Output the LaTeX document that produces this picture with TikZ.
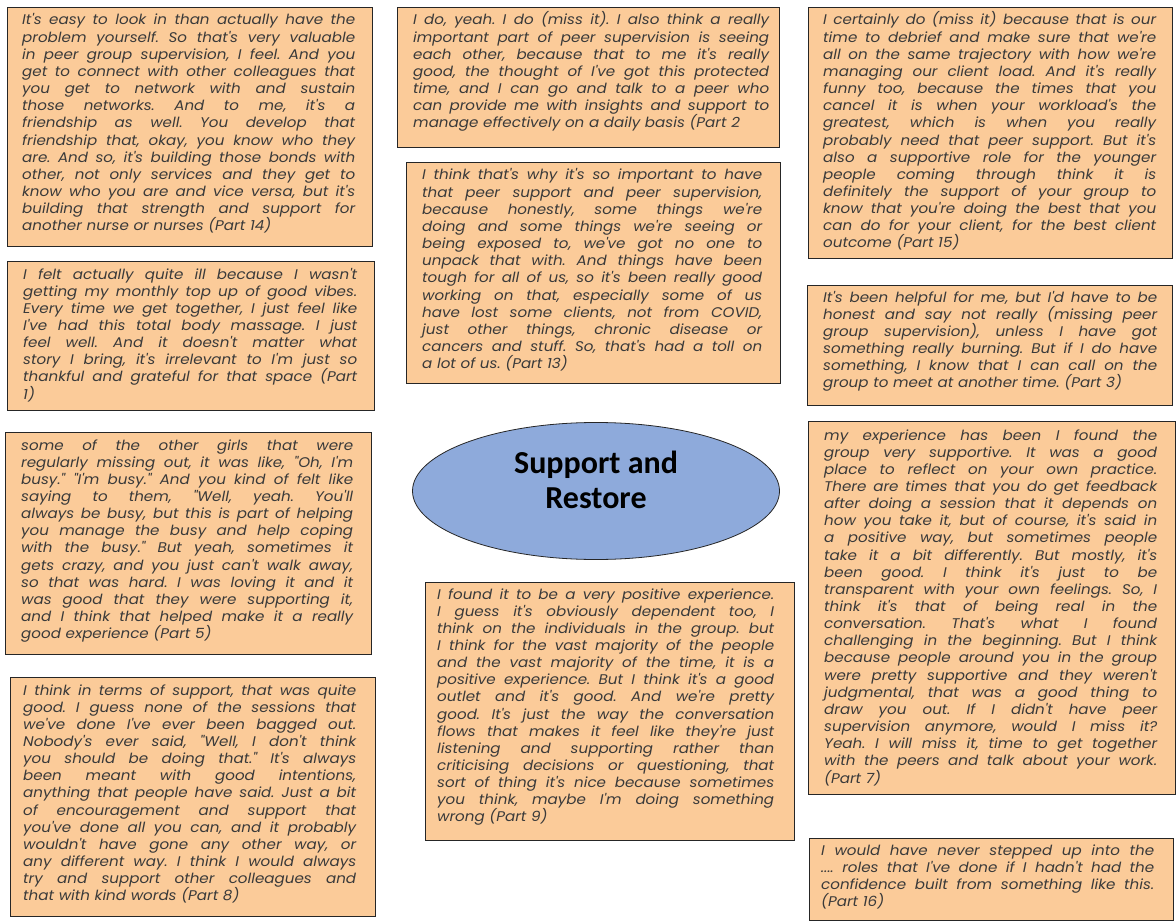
\documentclass[tikz,border=0pt]{standalone}
\usepackage{fontspec}
\usetikzlibrary{shapes.geometric,calc}
\newfontfamily\quotefont{Poppins}[FakeStretch=1.08]
\newfontfamily\hubfont{Carlito}
\definecolor{peach}{HTML}{FBCB99}
\definecolor{hubblue}{HTML}{8EAADB}
\definecolor{inkgray}{HTML}{3A3A3A}
\definecolor{boxline}{HTML}{262626}
\frenchspacing
% width of the text column of the quotation being set
\newdimen\qwidth
% a stretchable gap between two words
\newcommand\qgap{\hskip\fontdimen2\font plus 1fil minus 0.05em\relax}
% split a line at its spaces and join the words with stretchable gaps
\def\qwords#1 #2\qend{#1\if\relax\detokenize{#2}\relax\else\qgap\qwords#2\qend\fi}
% one justified line, and the closing (ragged) line of a quotation
\newcommand\ql[1]{\hbox to \qwidth{\qwords#1 \qend}\par}
\newcommand\qe[1]{\hbox{#1}\par}

\begin{document}
\begin{tikzpicture}[x=1pt,y=-1pt,
  quotebox/.style={draw=boxline, line width=1.2pt, fill=peach, anchor=north west, inner sep=0pt},
  quotetext/.style={anchor=base west, inner sep=0pt, text=inkgray, text width=#1,
    execute at begin node={\global\qwidth=#1\relax},
    font=\quotefont\itshape\fontsize{14}{17.15}\selectfont},
  hub/.style={ellipse, draw=boxline, line width=0.8pt, fill=hubblue,
    minimum width=367pt, minimum height=137pt, inner sep=0pt},
  hubtext/.style={align=center, text=black, inner sep=0pt,
    font=\hubfont\bfseries\fontsize{32}{35}\selectfont}]
\useasboundingbox (0,0) rectangle (1176,923);
\fill[white] (0,0) rectangle (1176,923);

% central theme
\node[hub] (core) at (596,491) {};
\node[hubtext] (coretext) at ($(core.center)+(0,-11)$) {Support and\\Restore};

% Part 14
\node[quotebox, minimum width=365pt, minimum height=239pt] (p14) at (7,7) {};
\node[quotetext=333pt] (p14t) at ($(p14.north west)+(15,18)$) {%
\ql{It's easy to look in than actually have the}
\ql{problem yourself. So that's very valuable}
\ql{in peer group supervision, I feel. And you}
\ql{get to connect with other colleagues that}
\ql{you get to network with and sustain}
\ql{those networks. And to me, it's a}
\ql{friendship as well. You develop that}
\ql{friendship that, okay, you know who they}
\ql{are. And so, it's building those bonds with}
\ql{other, not only services and they get to}
\ql{know who you are and vice versa, but it's}
\ql{building that strength and support for}
\qe{another nurse or nurses (Part 14)}};

% Part 2
\node[quotebox, minimum width=382pt, minimum height=140pt] (p2) at (397,7) {};
\node[quotetext=356pt] (p2t) at ($(p2.north west)+(16,18)$) {%
\ql{I do, yeah. I do (miss it). I also think a really}
\ql{important part of peer supervision is seeing}
\ql{each other, because that to me it's really}
\ql{good, the thought of I've got this protected}
\ql{time, and I can go and talk to a peer who}
\ql{can provide me with insights and support to}
\qe{manage effectively on a daily basis (Part 2}};

% Part 15
\node[quotebox, minimum width=364pt, minimum height=251pt] (p15) at (808,7) {};
\node[quotetext=333pt] (p15t) at ($(p15.north west)+(15,18)$) {%
\ql{I certainly do (miss it) because that is our}
\ql{time to debrief and make sure that we're}
\ql{all on the same trajectory with how we're}
\ql{managing our client load. And it's really}
\ql{funny too, because the times that you}
\ql{cancel it is when your workload's the}
\ql{greatest, which is when you really}
\ql{probably need that peer support. But it's}
\ql{also a supportive role for the younger}
\ql{people coming through think it is}
\ql{definitely the support of your group to}
\ql{know that you're doing the best that you}
\ql{can do for your client, for the best client}
\qe{outcome (Part 15)}};

% Part 1
\node[quotebox, minimum width=367pt, minimum height=149pt] (p1) at (7,261) {};
\node[quotetext=334pt] (p1t) at ($(p1.north west)+(16,18)$) {%
\ql{I felt actually quite ill because I wasn't}
\ql{getting my monthly top up of good vibes.}
\ql{Every time we get together, I just feel like}
\ql{I've had this total body massage. I just}
\ql{feel well. And it doesn't matter what}
\ql{story I bring, it's irrelevant to I'm just so}
\ql{thankful and grateful for that space (Part}
\qe{1)}};

% Part 13
\node[quotebox, minimum width=374pt, minimum height=221pt] (p13) at (406,162) {};
\node[quotetext=340pt] (p13t) at ($(p13.north west)+(16,18)$) {%
\ql{I think that's why it's so important to have}
\ql{that peer support and peer supervision,}
\ql{because honestly, some things we're}
\ql{doing and some things we're seeing or}
\ql{being exposed to, we've got no one to}
\ql{unpack that with. And things have been}
\ql{tough for all of us, so it's been really good}
\ql{working on that, especially some of us}
\ql{have lost some clients, not from COVID,}
\ql{just other things, chronic disease or}
\ql{cancers and stuff. So, that's had a toll on}
\qe{a lot of us. (Part 13)}};

% Part 3
\node[quotebox, minimum width=365pt, minimum height=120pt] (p3) at (807,285) {};
\node[quotetext=334pt] (p3t) at ($(p3.north west)+(16,17)$) {%
\ql{It's been helpful for me, but I'd have to be}
\ql{honest and say not really (missing peer}
\ql{group supervision), unless I have got}
\ql{something really burning. But if I do have}
\ql{something, I know that I can call on the}
\qe{group to meet at another time. (Part 3)}};

% Part 5
\node[quotebox, minimum width=366pt, minimum height=222pt] (p5) at (5,432) {};
\node[quotetext=332pt] (p5t) at ($(p5.north west)+(16,18)$) {%
\ql{some of the other girls that were}
\ql{regularly missing out, it was like, "Oh, I'm}
\ql{busy." "I'm busy." And you kind of felt like}
\ql{saying to them, "Well, yeah. You'll}
\ql{always be busy, but this is part of helping}
\ql{you manage the busy and help coping}
\ql{with the busy." But yeah, sometimes it}
\ql{gets crazy, and you just can't walk away,}
\ql{so that was hard. I was loving it and it}
\ql{was good that they were supporting it,}
\ql{and I think that helped make it a really}
\qe{good experience (Part 5)}};

% Part 7
\node[quotebox, minimum width=367pt, minimum height=373pt] (p7) at (808,421) {};
\node[quotetext=333pt] (p7t) at ($(p7.north west)+(16,19)$) {%
\ql{my experience has been I found the}
\ql{group very supportive. It was a good}
\ql{place to reflect on your own practice.}
\ql{There are times that you do get feedback}
\ql{after doing a session that it depends on}
\ql{how you take it, but of course, it's said in}
\ql{a positive way, but sometimes people}
\ql{take it a bit differently. But mostly, it's}
\ql{been good. I think it's just to be}
\ql{transparent with your own feelings. So, I}
\ql{think it's that of being real in the}
\ql{conversation. That's what I found}
\ql{challenging in the beginning. But I think}
\ql{because people around you in the group}
\ql{were pretty supportive and they weren't}
\ql{judgmental, that was a good thing to}
\ql{draw you out. If I didn't have peer}
\ql{supervision anymore, would I miss it?}
\ql{Yeah. I will miss it, time to get together}
\ql{with the peers and talk about your work.}
\qe{(Part 7)}};

% Part 8
\node[quotebox, minimum width=365pt, minimum height=239pt] (p8) at (10,677) {};
\node[quotetext=333pt] (p8t) at ($(p8.north west)+(13,18)$) {%
\ql{I think in terms of support, that was quite}
\ql{good. I guess none of the sessions that}
\ql{we've done I've ever been bagged out.}
\ql{Nobody's ever said, "Well, I don't think}
\ql{you should be doing that." It's always}
\ql{been meant with good intentions,}
\ql{anything that people have said. Just a bit}
\ql{of encouragement and support that}
\ql{you've done all you can, and it probably}
\ql{wouldn't have gone any other way, or}
\ql{any different way. I think I would always}
\ql{try and support other colleagues and}
\qe{that with kind words (Part 8)}};

% Part 9
\node[quotebox, minimum width=369pt, minimum height=258pt] (p9) at (425,582) {};
\node[quotetext=337pt] (p9t) at ($(p9.north west)+(12,17)$) {%
\ql{I found it to be a very positive experience.}
\ql{I guess it's obviously dependent too, I}
\ql{think on the individuals in the group. but}
\ql{I think for the vast majority of the people}
\ql{and the vast majority of the time, it is a}
\ql{positive experience. But I think it's a good}
\ql{outlet and it's good. And we're pretty}
\ql{good. It's just the way the conversation}
\ql{flows that makes it feel like they're just}
\ql{listening and supporting rather than}
\ql{criticising decisions or questioning, that}
\ql{sort of thing it's nice because sometimes}
\ql{you think, maybe I'm doing something}
\qe{wrong (Part 9)}};

% Part 16
\node[quotebox, minimum width=364pt, minimum height=82pt] (p16) at (809,838) {};
\node[quotetext=333pt] (p16t) at ($(p16.north west)+(12,17)$) {%
\ql{I would have never stepped up into the}
\ql{.... roles that I've done if I hadn't had the}
\ql{confidence built from something like this.}
\qe{(Part 16)}};
\end{tikzpicture}
\end{document}
